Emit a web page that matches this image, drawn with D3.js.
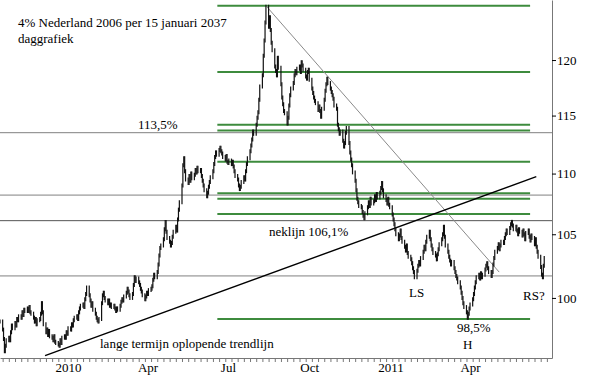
<!DOCTYPE html>
<html>
<head>
<meta charset="utf-8">
<script src="https://cdn.jsdelivr.net/npm/d3@7"></script>
<style>
  body { margin: 0; background: #fff; }
  svg text { font-family: "Liberation Serif", "Times New Roman", serif; font-size: 13px; fill: #000; }
</style>
</head>
<body>
<div id="chart"></div>
<script>
// daily closes, first Fri 16 Oct 2009, then one row per week (Mon..Fri)
var firstDay = "2009-10-16";
var closes = [
  98.2,
  97.6, 96.9, 96.0, 96.4, 96.8,
  97.0, 96.8, 97.4, 97.9, 97.7,
  98.1, 97.9, 98.4, 98.3, 98.6,
  98.5, 98.9, 98.7, 99.1, 99.0,
  99.2, 99.0, 99.3, 98.9, 98.8,
  98.5, 98.2, 98.4, 98.0, 98.3,
  98.4, 98.8, 99.6, 98.9, 98.0,
  97.4, 97.6, 97.2, 97.5, 97.1,
  97.0, 96.8, 97.1, 96.7, 96.6,
  96.5, 96.4, 96.8, 96.6, 97.0,
  97.1, 97.0, 97.4, 97.3, 97.7,
  97.6, 98.0, 97.9, 98.3, 98.5,
  98.6, 98.4, 98.9, 99.2, 99.4,
  99.5, 99.3, 99.9, 100.3, 100.8,
  100.2, 99.8, 99.4, 99.6, 99.1,
  98.8, 98.5, 98.3, 98.2, 98.4,
  99.6, 100.2, 100.4, 100.0, 99.8,
  99.6, 99.8, 99.4, 99.5, 99.3,
  99.4, 99.2, 99.0, 99.2, 99.1,
  99.4, 99.7, 99.9, 99.8, 100.1,
  100.4, 100.7, 100.5, 100.2, 100.0,
  100.3, 101.0, 101.6, 101.3, 101.5,
  101.2, 101.0, 100.7, 100.5, 100.2,
  99.9, 100.1, 100.4, 100.3, 100.6,
  100.7, 100.9, 101.4, 101.8, 101.6,
  102.0, 102.6, 103.3, 103.9, 104.1,
  104.6, 105.4, 106.0, 105.2, 104.7,
  104.4, 104.1, 104.3, 104.8, 105.2,
  105.6, 105.3, 106.2, 107.0, 107.6,
  109.0, 110.7, 111.3, 110.2, 109.5,
  109.2, 109.8, 109.4, 110.0, 109.6,
  109.9, 110.3, 110.1, 110.5, 110.2,
  110.3, 109.8, 109.4, 109.0, 108.6,
  108.1, 108.4, 108.9, 109.3, 109.7,
  110.2, 110.8, 111.4, 111.8, 111.6,
  112.0, 112.2, 111.9, 111.7, 111.4,
  111.2, 111.5, 111.0, 110.9, 111.1,
  110.8, 111.0, 110.6, 110.2, 109.8,
  109.5, 109.0, 108.7, 108.9, 109.3,
  109.7, 109.5, 110.2, 110.8, 111.3,
  111.9, 112.4, 112.9, 113.6, 113.4,
  114.2, 114.8, 115.3, 116.4, 117.6,
  118.6, 120.4, 121.8, 123.5, 125.0,
  123.1, 124.0, 122.8, 121.6, 120.9,
  119.4, 119.0, 118.6, 120.2, 119.3,
  117.8, 116.6, 116.0, 115.4, 115.2,
  114.3, 114.8, 115.9, 116.8, 117.4,
  117.9, 118.6, 119.0, 118.8, 119.2,
  119.4, 118.9, 119.8, 119.5, 119.1,
  118.5, 118.3, 118.9, 119.1, 118.2,
  117.4, 117.0, 116.6, 116.3, 116.1,
  115.5, 115.8, 115.4, 114.9, 115.6,
  116.4, 117.2, 117.8, 118.3, 117.9,
  117.4, 117.1, 116.8, 116.5, 115.9,
  115.6, 114.2, 113.8, 113.4, 113.6,
  112.8, 112.3, 112.6, 113.5, 113.9,
  112.6, 111.8, 111.2, 110.7, 110.1,
  109.4, 108.6, 107.9, 107.6, 107.3,
  107.2, 106.8, 106.5, 106.3, 106.7,
  107.2, 107.6, 107.3, 107.9, 107.5,
  107.7, 108.1, 107.8, 108.3, 108.0,
  108.4, 108.8, 109.2, 108.6, 108.1,
  107.8, 107.5, 107.9, 107.4, 107.2,
  106.6, 106.2, 105.8, 105.4, 105.0,
  104.6, 104.9, 105.3, 104.7, 104.4,
  104.0, 103.7, 104.1, 103.5, 103.2,
  103.0, 102.7, 102.3, 102.0, 101.6,
  102.1, 102.5, 102.8, 102.6, 103.1,
  103.6, 104.0, 103.8, 104.4, 104.8,
  105.2, 104.6, 104.1, 103.8, 103.5,
  103.3, 103.0, 103.4, 103.8, 104.2,
  104.6, 105.0, 105.6, 104.8, 104.1,
  103.6, 103.2, 102.9, 102.6, 102.8,
  102.3, 102.0, 101.7, 101.5, 101.2,
  100.8, 100.4, 100.0, 99.6, 99.3,
  98.9, 98.5, 98.8, 99.2, 99.5,
  99.9, 100.3, 100.8, 101.2, 101.6,
  101.8, 101.5, 101.9, 101.6, 101.8,
  102.2, 102.5, 102.7, 102.3, 102.0,
  101.7, 102.0, 102.6, 103.1, 103.6,
  103.9, 104.2, 103.8, 104.1, 104.4,
  104.3, 104.7, 105.0, 105.3, 105.1,
  105.5, 105.8, 106.0, 105.7, 105.4,
  105.6, 105.3, 105.0, 105.4, 105.2,
  104.9, 105.3, 105.0, 104.6, 105.1,
  105.3, 104.8, 104.5, 104.9, 104.7,
  104.2, 104.6, 104.0, 103.6, 103.2,
  102.4, 101.8, 101.6, 102.5, 103.1
];

var yTicks = [100, 105, 110, 115, 120];
var grayLevels = [113.5, 108.2, 106.1, 101.7];
var greenLevels = [125.1, 118.9, 114.2, 113.7, 111.0, 108.35, 107.9, 106.65, 98.4];
var greenFrom = "2010-06-19", greenTo = "2011-06-08";
var riseLine = [["2009-12-06", 95.68], ["2011-06-15", 109.74]];
var fallLine = [["2010-08-13", 125.1], ["2011-05-04", 102.0]];
var lastLabel = "2011-06-01";

var svg_dx = 600, svg_dy = 375,
  plot_dx = 552, plot_dy = 358;

var parse = d3.timeParse("%Y-%m-%d");

var x = d3.scaleTime()
  .domain([parse("2009-10-16"), new Date(2011, 6, 2, 19)])
  .range([0, plot_dx]);

var y = d3.scaleLog()
  .domain([95.5, 125.65])
  .range([plot_dy, 0]);

var svg = d3.select("#chart")
  .append("svg")
  .attr("width", svg_dx)
  .attr("height", svg_dy);

// trading days (weekdays)
var days = d3.timeDay.range(parse(firstDay), parse("2011-07-30"))
  .filter(function(d) { return d.getDay() % 6 !== 0; })
  .slice(0, closes.length);

var bars = closes.map(function(c, i) {
  var p = i > 0 ? closes[i - 1] : c;
  return { date: days[i], hi: Math.max(c, p), lo: Math.min(c, p) };
});

// horizontal levels
svg.append("g")
  .selectAll("line")
  .data(grayLevels)
  .enter()
  .append("line")
  .attr("x1", 0)
  .attr("x2", plot_dx)
  .attr("y1", function(d) { return y(d); })
  .attr("y2", function(d) { return y(d); })
  .attr("stroke", function(d) { return d == 106.1 ? "#555" : "#808080"; })
  .attr("stroke-width", 1);

svg.append("g")
  .selectAll("line")
  .data(greenLevels)
  .enter()
  .append("line")
  .attr("x1", x(parse(greenFrom)))
  .attr("x2", x(parse(greenTo)))
  .attr("y1", function(d) { return y(d); })
  .attr("y2", function(d) { return y(d); })
  .attr("stroke", "#3d8b3d")
  .attr("stroke-width", 2);

// trend lines
function drawTrend(pts, color, w) {
  svg.append("line")
    .attr("x1", x(parse(pts[0][0])))
    .attr("y1", y(pts[0][1]))
    .attr("x2", x(parse(pts[1][0])))
    .attr("y2", y(pts[1][1]))
    .attr("stroke", color)
    .attr("stroke-width", w);
}
drawTrend(fallLine, "#8a8a8a", 1);
drawTrend(riseLine, "#000", 1.4);

// price bars
svg.append("g")
  .selectAll("line")
  .data(bars)
  .enter()
  .append("line")
  .attr("x1", function(d) { return x(d.date); })
  .attr("x2", function(d) { return x(d.date); })
  .attr("y1", function(d) { return y(d.hi) - 2; })
  .attr("y2", function(d) { return y(d.lo) + 2; })
  .attr("stroke", "#111")
  .attr("stroke-width", 1.2);

// right axis
var axis_y = d3.axisRight(y)
  .tickValues(yTicks)
  .tickFormat(d3.format("d"))
  .tickSize(4)
  .tickSizeOuter(0)
  .tickPadding(1);

var gy = svg.append("g")
  .attr("transform", "translate(" + plot_dx + ",0)")
  .call(axis_y);
gy.select(".domain").attr("stroke", "#777");
gy.selectAll("text").style("font-size", "13px").attr("fill", "#000");

// bottom axis: weekly ticks + quarterly labels
var gxTicks = svg.append("g")
  .attr("transform", "translate(0," + plot_dy + ")")
  .call(d3.axisBottom(x)
    .tickValues(d3.timeMonday.range(x.domain()[0], x.domain()[1]))
    .tickFormat("")
    .tickSize(4)
    .tickSizeOuter(0));
gxTicks.select(".domain").attr("stroke", "#777");
gxTicks.selectAll(".tick line").attr("stroke", "#777");

var fmtMonth = function(d) {
  return d.getMonth() === 0 ? d3.timeFormat("%Y")(d) : d3.timeFormat("%b")(d);
};
var gxLabels = svg.append("g")
  .attr("transform", "translate(0," + plot_dy + ")")
  .call(d3.axisBottom(x)
    .tickValues(d3.timeMonth.every(3).range(x.domain()[0], parse(lastLabel)))
    .tickFormat(fmtMonth)
    .tickSize(0)
    .tickPadding(5));
gxLabels.select(".domain").remove();
gxLabels.selectAll("text").style("font-size", "13px").attr("fill", "#000");

// titles and annotations
svg.append("text").attr("x", 18).attr("y", 27).text("4% Nederland 2006 per 15 januari 2037");
svg.append("text").attr("x", 18).attr("y", 43).text("daggrafiek");

svg.append("text").attr("x", 138).attr("y", y(113.5) - 4).text("113,5%");
svg.append("text").attr("x", 269).attr("y", y(106.1) + 15).text("neklijn 106,1%");
svg.append("text").attr("x", 409).attr("y", y(101.7) + 21).text("LS");
svg.append("text").attr("x", 523).attr("y", y(101.7) + 24).text("RS?");
svg.append("text").attr("x", 457).attr("y", y(98.4) + 13).text("98,5%");
svg.append("text").attr("x", 463).attr("y", y(98.4) + 30).text("H");
svg.append("text").attr("x", 100).attr("y", 348).text("lange termijn oplopende trendlijn");
</script>
</body>
</html>
